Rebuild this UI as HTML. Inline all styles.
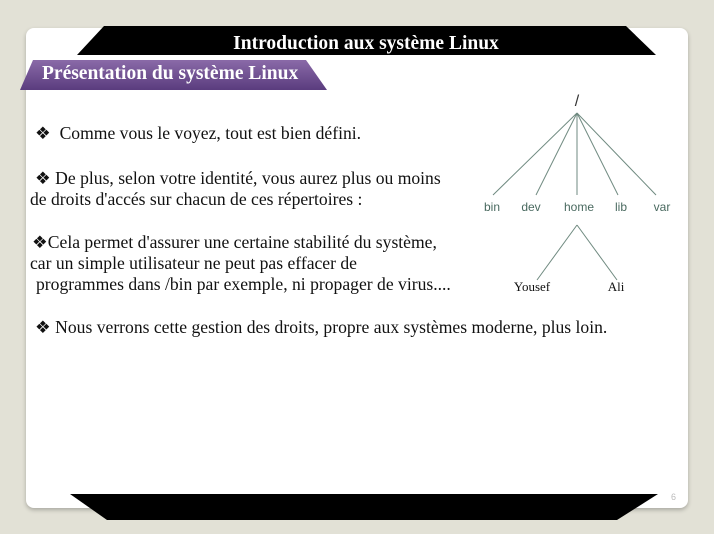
<!DOCTYPE html>
<html><head><meta charset="utf-8"><style>
body{margin:0;width:714px;height:534px;background:#e2e1d6;position:relative;overflow:hidden;font-family:"Liberation Serif",serif}
.card{position:absolute;left:26px;top:28px;width:662px;height:480px;background:#fff;border-radius:8px;box-shadow:0 2px 4px rgba(0,0,0,.25)}
.t{position:absolute;font-size:17.6px;color:#111;white-space:nowrap;line-height:20px}
svg{position:absolute;left:0;top:0}
</style></head><body>
<div class="card"></div>
<svg width="714" height="534">
<defs><linearGradient id="g" x1="0" y1="0" x2="0" y2="1"><stop offset="0" stop-color="#8a6aa8"/><stop offset="1" stop-color="#5a3c7e"/></linearGradient></defs>
<polygon points="104,26 626,26 656,55 77,55" fill="#000"/>
<text x="366" y="49" font-family="Liberation Serif" font-weight="bold" font-size="19.5" fill="#fff" text-anchor="middle">Introduction aux système Linux</text>
<polygon points="33,60 306,60 327,90 20,90" fill="url(#g)"/>
<text x="42" y="79" font-family="Liberation Serif" font-weight="bold" font-size="19.5" fill="#fff">Présentation du système Linux</text>
<polygon points="70,494 658,494 617,520 107,520" fill="#000"/>
<text x="671" y="500" font-family="Liberation Sans" font-size="9" fill="#bbb">6</text>
<g stroke="#6f8a80" stroke-width="1" fill="none">
<line x1="577" y1="113" x2="493" y2="195"/><line x1="577" y1="113" x2="536" y2="195"/><line x1="577" y1="113" x2="577" y2="195"/><line x1="577" y1="113" x2="618" y2="195"/><line x1="577" y1="113" x2="656" y2="195"/>
<line x1="577" y1="225" x2="537" y2="280"/><line x1="577" y1="225" x2="617" y2="280"/>
</g>
<g font-family="Liberation Sans" font-size="12" fill="#4a6a60" text-anchor="middle">
<text x="577" y="106" font-size="16" fill="#333">/</text>
<text x="492" y="211">bin</text><text x="531" y="211">dev</text><text x="579" y="211">home</text><text x="621" y="211">lib</text><text x="662" y="211">var</text>
</g>
<g font-family="Liberation Serif" font-size="13" fill="#111" text-anchor="middle">
<text x="532" y="291">Yousef</text><text x="616" y="291">Ali</text>
</g>
</svg>
<div class="t" style="left:35px;top:123px">❖&nbsp; Comme vous le voyez, tout est bien défini.</div>
<div class="t" style="left:35px;top:168px">❖ De plus, selon votre identité, vous aurez plus ou moins</div>
<div class="t" style="left:30px;top:189px">de droits d'accés sur chacun de ces répertoires :</div>
<div class="t" style="left:32px;top:232px">❖Cela permet d'assurer une certaine stabilité du système,</div>
<div class="t" style="left:30px;top:253px">car un simple utilisateur ne peut pas effacer de</div>
<div class="t" style="left:36px;top:274px">programmes dans /bin par exemple, ni propager de virus....</div>
<div class="t" style="left:35px;top:317px">❖ Nous verrons cette gestion des droits, propre aux systèmes moderne, plus loin.</div>
</body></html>
